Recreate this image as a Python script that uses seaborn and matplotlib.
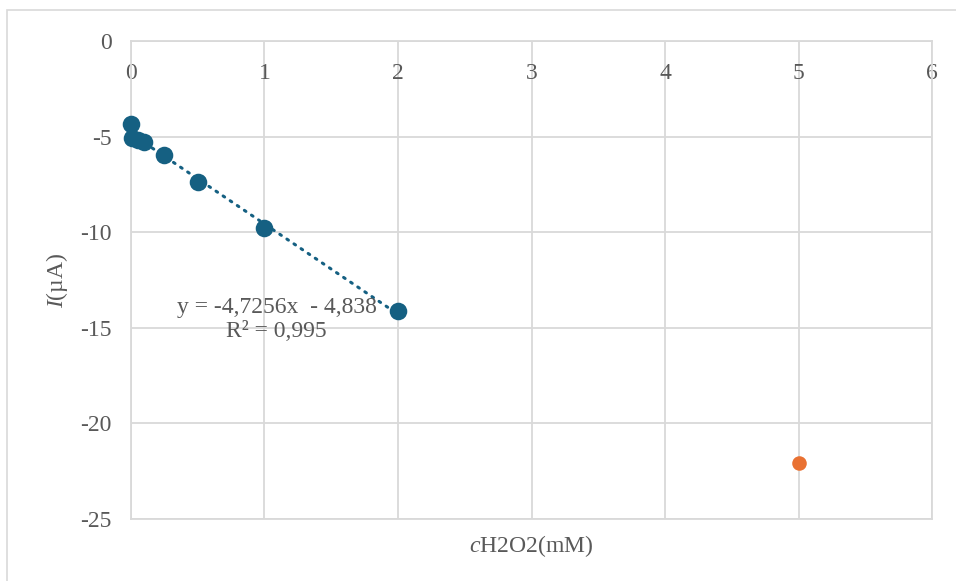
import numpy as np
import pandas as pd
import matplotlib.pyplot as plt
import seaborn as sns

# data
conc = [0, 0.01, 0.05, 0.1, 0.25, 0.5, 1, 2]
current = [-4.35, -5.08, -5.15, -5.27, -5.98, -7.37, -9.8, -14.1]
outlier_conc = [5]
outlier_current = [-22.07]
slope = -4.7256
intercept = -4.838
x_ticks = [0, 1, 2, 3, 4, 5, 6]
y_ticks = [0, -5, -10, -15, -20, -25]

blue = "#156082"
orange = "#e97132"
grey = "#595959"

sns.set_style("white")
plt.rcParams['font.family'] = ['Liberation Serif', 'DejaVu Serif']
plt.rcParams['mathtext.fontset'] = 'custom'
plt.rcParams['mathtext.it'] = 'Liberation Serif:italic'
plt.rcParams['mathtext.rm'] = 'Liberation Serif'

fig = plt.figure(figsize=(9.56, 5.81), dpi=100)
ax = fig.add_axes([0.137, 0.107, 0.838, 0.822])

df = pd.DataFrame({"c": conc, "I": current})
df_out = pd.DataFrame({"c": outlier_conc, "I": outlier_current})

# trendline from the fitted equation
xs = np.array([min(conc), max(conc)])
ax.plot(xs, slope * xs + intercept, color=blue, lw=2.2, ls=(0, (0.6, 2.2)),
        dash_capstyle='round', zorder=2)

sns.scatterplot(data=df, x="c", y="I", ax=ax, color=blue, s=160,
                edgecolor=blue, linewidth=0, zorder=3, clip_on=False)
sns.scatterplot(data=df_out, x="c", y="I", ax=ax, color=orange, s=110,
                edgecolor=orange, linewidth=0, zorder=3, clip_on=False)

ax.set_xlim(0, 6)
ax.set_ylim(-25, 0)
ax.set_xticks(x_ticks)
ax.set_yticks(y_ticks)
ax.grid(True, color="#d9d9d9", lw=1.3)
ax.set_axisbelow(True)
for s in ax.spines.values():
    s.set_color("#d9d9d9")
    s.set_linewidth(1.3)

ax.tick_params(axis='both', length=0, labelsize=17, labelcolor=grey)
ax.xaxis.set_ticks_position('top')
ax.tick_params(axis='x', which='both', labeltop=True, labelbottom=False, pad=-31)
ax.tick_params(axis='y', pad=14)
ax.set_yticklabels([str(v) for v in y_ticks])

ax.set_xlabel(r"$\it{c}$" + "H2O2(mM)", fontsize=17, color=grey, labelpad=10)
ax.set_ylabel(r"$\it{I}$" + "(µA)", fontsize=17, color=grey, labelpad=7)
ax.xaxis.set_label_position('bottom')

ax.text(1.09, -14.55, "y = -4,7256x  - 4,838\nR² = 0,995", ha='center', va='center',
        fontsize=17, color=grey, linespacing=1.2, zorder=4)

fig.patches.append(plt.Rectangle((0.007, -0.05), 1.1, 1.033, transform=fig.transFigure,
                                 fill=False, edgecolor="#d9d9d9", lw=1.2))

fig.savefig("out.png", dpi=100)
